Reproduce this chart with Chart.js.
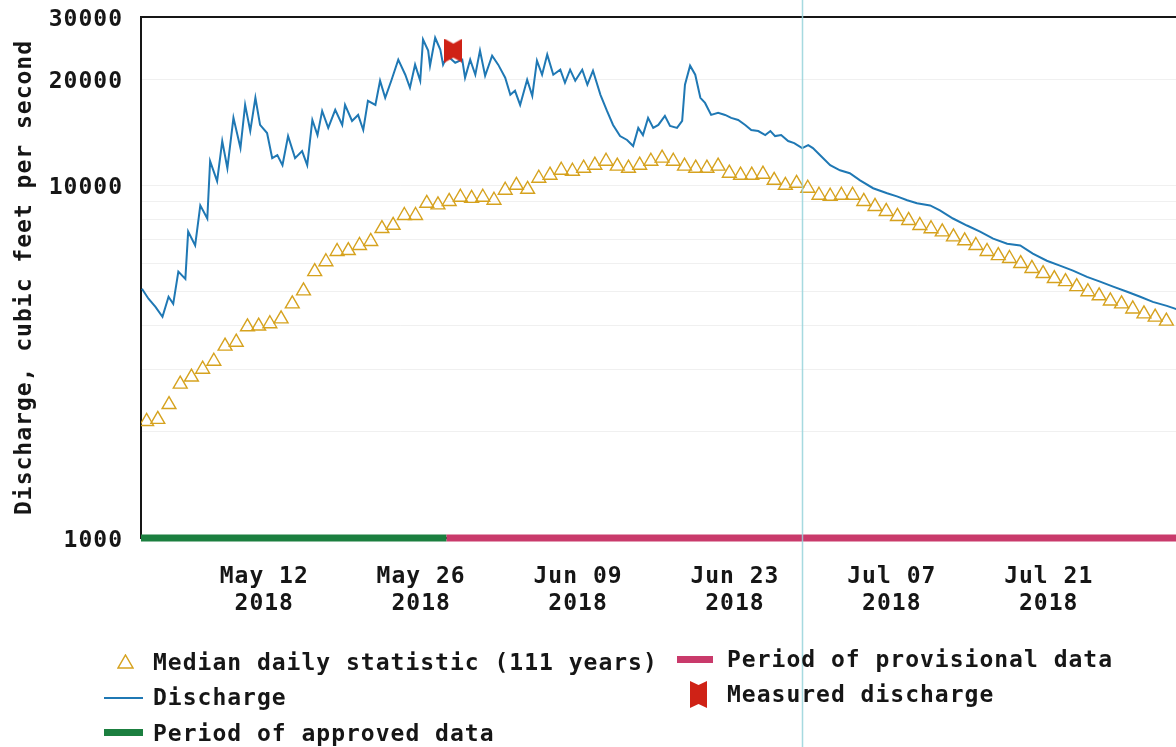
<!DOCTYPE html>
<html>
<head>
<meta charset="utf-8">
<script src="https://cdn.jsdelivr.net/npm/chart.js@4.4.1/dist/chart.umd.min.js"></script>
<style>
  html, body { margin: 0; padding: 0; background: #fff; overflow: hidden; }
  #wrap { position: relative; width: 1176px; height: 747px; }
  #chart { position: absolute; left: 0; top: 0; }
  .lg { position: absolute; font: bold 23px "DejaVu Sans Mono", monospace; letter-spacing: 1px;
        color: #161616; line-height: 26px; height: 26px; white-space: nowrap; }
  .sym { position: absolute; }
</style>
</head>
<body>
<div id="wrap">
  <canvas id="chart" width="1176" height="747"></canvas>

  <svg class="sym" style="left:117px;top:654px" width="17" height="15">
    <polygon points="8.5,1 16,14 1,14" fill="none" stroke="#d6a21e" stroke-width="1.5"/>
  </svg>
  <div class="lg" style="left:153px;top:649px">Median daily statistic (111 years)</div>

  <div class="sym" style="left:104px;top:697px;width:39px;height:2px;background:#1f78b4"></div>
  <div class="lg" style="left:153px;top:684px">Discharge</div>

  <div class="sym" style="left:104px;top:729px;width:39px;height:7px;background:#1b7f3f"></div>
  <div class="lg" style="left:153px;top:720px">Period of approved data</div>

  <div class="sym" style="left:677px;top:656px;width:36px;height:7px;background:#c93a6b"></div>
  <div class="lg" style="left:727px;top:646px">Period of provisional data</div>

  <svg class="sym" style="left:690px;top:681px" width="17" height="27">
    <polygon points="0,0 8.5,4 17,0 17,27 8.5,23 0,27" fill="#cf2216"/>
  </svg>
  <div class="lg" style="left:727px;top:681px">Measured discharge</div>
</div>

<script>
// median daily statistic, one value per day starting 2018-05-01
const medianStart = '2018-05-01';
const medianValues = [
  2140, 2170, 2390, 2730, 2860, 3010, 3170, 3500, 3590, 3970,
  3990, 4050, 4180, 4610, 5020, 5690, 6070, 6490, 6530, 6750,
  6930, 7540, 7700, 8210, 8210, 8890, 8800, 9000, 9250, 9180,
  9250, 9070, 9680, 10000, 9740, 10470, 10680, 11030, 10960, 11180,
  11400, 11700, 11330, 11180, 11400, 11700, 11940, 11700, 11330, 11180,
  11180, 11330, 10820, 10680, 10680, 10750, 10330, 10000, 10130, 9810,
  9370, 9310, 9370, 9370, 9000, 8710, 8430, 8160, 7950, 7690,
  7530, 7380, 7140, 6960, 6750, 6490, 6320, 6200, 6000, 5810,
  5620, 5440, 5330, 5160, 4990, 4860, 4700, 4610, 4460, 4320,
  4230, 4120
];

// discharge (cfs), daily highs and lows
const dischargeTimes = [
  '2018-05-01 02', '2018-05-01 16', '2018-05-02 07', '2018-05-02 22', '2018-05-03 11', '2018-05-03 21',
  '2018-05-04 08', '2018-05-04 23', '2018-05-05 05', '2018-05-05 20', '2018-05-06 07', '2018-05-06 22',
  '2018-05-07 04', '2018-05-07 19', '2018-05-08 06', '2018-05-08 17', '2018-05-09 06', '2018-05-09 21',
  '2018-05-10 07', '2018-05-10 18', '2018-05-11 05', '2018-05-11 15', '2018-05-12 06', '2018-05-12 17',
  '2018-05-13 04', '2018-05-13 15', '2018-05-14 03', '2018-05-14 18', '2018-05-15 09', '2018-05-15 20',
  '2018-05-16 07', '2018-05-16 18', '2018-05-17 04', '2018-05-17 17', '2018-05-18 08', '2018-05-18 23',
  '2018-05-19 05', '2018-05-19 20', '2018-05-20 09', '2018-05-20 20', '2018-05-21 06', '2018-05-21 22',
  '2018-05-22 08', '2018-05-22 19', '2018-05-23 08', '2018-05-23 23', '2018-05-24 14', '2018-05-25 00',
  '2018-05-25 11', '2018-05-25 22', '2018-05-26 04', '2018-05-26 15', '2018-05-26 19', '2018-05-27 06',
  '2018-05-27 17', '2018-05-27 23', '2018-05-28 08', '2018-05-29 01', '2018-05-29 16', '2018-05-29 22',
  '2018-05-30 09', '2018-05-30 20', '2018-05-31 06', '2018-05-31 17', '2018-06-01 08', '2018-06-01 21',
  '2018-06-02 12', '2018-06-02 23', '2018-06-03 09', '2018-06-03 20', '2018-06-04 11', '2018-06-04 22',
  '2018-06-05 08', '2018-06-05 19', '2018-06-06 06', '2018-06-06 19', '2018-06-07 10', '2018-06-07 20',
  '2018-06-08 07', '2018-06-08 18', '2018-06-09 09', '2018-06-09 20', '2018-06-10 08', '2018-06-11 00',
  '2018-06-11 14', '2018-06-12 03', '2018-06-12 18', '2018-06-13 09', '2018-06-13 22', '2018-06-14 09',
  '2018-06-14 19', '2018-06-15 06', '2018-06-15 17', '2018-06-16 04', '2018-06-16 18', '2018-06-17 05',
  '2018-06-17 20', '2018-06-18 07', '2018-06-18 13', '2018-06-19 00', '2018-06-19 11', '2018-06-19 22',
  '2018-06-20 08', '2018-06-20 21', '2018-06-21 12', '2018-06-22 03', '2018-06-22 16', '2018-06-23 07',
  '2018-06-23 22', '2018-06-24 11', '2018-06-25 02', '2018-06-25 17', '2018-06-26 04', '2018-06-26 14',
  '2018-06-27 03', '2018-06-27 18', '2018-06-28 07', '2018-06-29 00', '2018-06-29 13', '2018-06-29 23',
  '2018-06-30 14', '2018-07-01 12', '2018-07-02 09', '2018-07-03 06', '2018-07-04 04', '2018-07-05 08',
  '2018-07-06 14', '2018-07-07 11', '2018-07-08 09', '2018-07-09 06', '2018-07-10 10', '2018-07-11 07',
  '2018-07-12 11', '2018-07-13 17', '2018-07-14 21', '2018-07-16 01', '2018-07-17 07', '2018-07-18 11',
  '2018-07-19 14', '2018-07-20 20', '2018-07-22 00', '2018-07-23 04', '2018-07-24 10', '2018-07-25 14',
  '2018-07-26 18', '2018-07-28 00', '2018-07-29 04', '2018-07-30 07', '2018-07-31 13', '2018-08-01 13'
];
const dischargeValues = [
  5090, 4770, 4520, 4240, 4830, 4610,
  5690, 5430, 7390, 6750, 8770, 8050,
  11700, 10270, 13350, 11180, 15530, 12750,
  16900, 14250, 17700, 14830, 14070, 11940,
  12180, 11400, 13790, 11940, 12500, 11400,
  15320, 13880, 16250, 14540, 16360, 14830,
  16900, 15220, 15830, 14350, 17350, 16900,
  19790, 17700, 19790, 22710, 20580, 18900,
  21980, 19790, 25890, 24090, 21830, 26200,
  24250, 21980, 23310, 22260, 22710, 20180,
  22710, 20580, 24090, 20440, 23310, 21980,
  20180, 18050, 18530, 16900, 19910, 17930,
  22560, 20580, 23470, 20580, 21270, 19530,
  21270, 19790, 21270, 19280, 21130, 18050,
  16250, 14830, 13790, 13440, 12920, 14540,
  13880, 15530, 14540, 14830, 15730, 14730,
  14540, 15220, 19280, 21830, 20580, 17700,
  17120, 15830, 16040, 15830, 15530, 15320,
  14830, 14350, 14250, 13880, 14250, 13790,
  13880, 13350, 13170, 12750, 13000, 12750,
  12180, 11400, 11030, 10820, 10330, 9810,
  9490, 9300, 9070, 8890, 8770, 8490,
  8050, 7690, 7390, 7060, 6830, 6750,
  6400, 6110, 5920, 5730, 5500, 5330,
  5160, 4990, 4830, 4670, 4550, 4440
];

const measuredTimes = ['2018-05-28 21'];
const measuredValues = [24090];

const approvedPeriod = ['2018-05-01 00', '2018-05-28 06'];
const provisionalPeriod = ['2018-05-28 06', '2018-08-02 00'];

const xTickDates = ['2018-05-12', '2018-05-26', '2018-06-09', '2018-06-23', '2018-07-07', '2018-07-21'];
const xTickLabels = [['May 12', '2018'], ['May 26', '2018'], ['Jun 09', '2018'],
                     ['Jun 23', '2018'], ['Jul 07', '2018'], ['Jul 21', '2018']];
const yTickLabels = [1000, 10000, 20000, 30000];
const yGridValues = [1000, 2000, 3000, 4000, 5000, 6000, 7000, 8000, 9000, 10000, 20000, 30000];

const creaseDate = '2018-06-29 00';   // light vertical fold line across the photo

// days since 2018-05-01 00:00
function dayOf(s) {
  const [d, h] = s.split(' ');
  const [Y, M, D] = d.split('-').map(Number);
  return (Date.UTC(Y, M - 1, D) - Date.UTC(2018, 4, 1)) / 864e5 + (h ? Number(h) / 24 : 0);
}

function markerImage(w, h, notch) {
  const c = document.createElement('canvas');
  c.width = w; c.height = h;
  const g = c.getContext('2d');
  g.fillStyle = '#cf2216';
  g.beginPath();
  g.moveTo(0, 0); g.lineTo(w / 2, notch); g.lineTo(w, 0);
  g.lineTo(w, h); g.lineTo(w / 2, h - notch); g.lineTo(0, h);
  g.closePath();
  g.fill();
  return c;
}

const font = { family: '"DejaVu Sans Mono", monospace', size: 23, weight: 'bold', lineHeight: 1.17 };
const ink = '#161616';
const x0 = dayOf(medianStart);

const spacing = {
  id: 'spacing',
  beforeDraw(chart) { chart.ctx.letterSpacing = '1px'; }
};

const crease = {
  id: 'crease',
  afterDraw(chart) {
    const ctx = chart.ctx;
    const px = Math.round(chart.scales.x.getPixelForValue(dayOf(creaseDate))) + 0.5;
    ctx.save();
    ctx.strokeStyle = 'rgba(150, 212, 218, 0.85)';
    ctx.lineWidth = 1.5;
    ctx.beginPath();
    ctx.moveTo(px, 0);
    ctx.lineTo(px, chart.height);
    ctx.stroke();
    ctx.restore();
  }
};

new Chart(document.getElementById('chart').getContext('2d'), {
  type: 'line',
  data: {
    datasets: [
      {
        label: 'Measured discharge',
        data: measuredTimes.map((t, i) => ({ x: dayOf(t), y: measuredValues[i] })),
        showLine: false,
        pointStyle: markerImage(18, 24, 5),
        pointRadius: 10
      },
      {
        label: 'Discharge',
        data: dischargeTimes.map((t, i) => ({ x: dayOf(t), y: dischargeValues[i] })),
        borderColor: '#1f78b4',
        borderWidth: 2,
        pointRadius: 0,
        tension: 0
      },
      {
        label: 'Median daily statistic (111 years)',
        data: medianValues.map((v, i) => ({ x: x0 + i + 0.5, y: v })),
        showLine: false,
        pointStyle: 'triangle',
        pointRadius: 8,
        pointBorderWidth: 1.4,
        borderColor: '#d6a21e',
        backgroundColor: 'rgba(255, 255, 255, 0)'
      },
      {
        label: 'Period of approved data',
        data: approvedPeriod.map(t => ({ x: dayOf(t), y: 1000 })),
        borderColor: '#1b7f3f',
        borderWidth: 7,
        borderCapStyle: 'butt',
        pointRadius: 0,
        clip: false
      },
      {
        label: 'Period of provisional data',
        data: provisionalPeriod.map(t => ({ x: dayOf(t), y: 1000 })),
        borderColor: '#c93a6b',
        borderWidth: 7,
        borderCapStyle: 'butt',
        pointRadius: 0,
        clip: false
      }
    ]
  },
  options: {
    responsive: false,
    animation: false,
    devicePixelRatio: 1,
    layout: { autoPadding: false, padding: { top: 17, left: 0, right: 0, bottom: 0 } },
    plugins: {
      legend: { display: false },
      tooltip: { enabled: false }
    },
    scales: {
      x: {
        type: 'linear',
        min: 0,
        max: 92.36,
        afterBuildTicks: axis => { axis.ticks = xTickDates.map(d => ({ value: dayOf(d) })); },
        afterFit: axis => {
          axis.height = 747 - 538;
          axis.paddingLeft = 0;
          axis.paddingRight = 0;
        },
        grid: { display: false },
        border: { display: true, color: ink, width: 2 },
        ticks: {
          autoSkip: false,
          maxRotation: 0,
          padding: 18,
          font: font,
          color: ink,
          callback: (value, index) => xTickLabels[index]
        }
      },
      y: {
        type: 'logarithmic',
        min: 1000,
        max: 30000,
        afterBuildTicks: axis => { axis.ticks = yGridValues.map(v => ({ value: v })); },
        afterFit: axis => {
          axis.width = 141;
          axis.paddingTop = 0;
          axis.paddingBottom = 0;
        },
        grid: {
          drawTicks: false,
          color: c => (c.tick && c.tick.value === 30000) ? ink : 'rgba(0, 0, 0, 0.06)',
          lineWidth: c => (c.tick && c.tick.value === 30000) ? 2 : 1
        },
        border: { display: true, color: ink, width: 2 },
        ticks: {
          autoSkip: false,
          padding: 18,
          labelOffset: 3,
          font: font,
          color: ink,
          callback: v => yTickLabels.includes(v) ? String(v) : ''
        },
        title: {
          display: true,
          text: 'Discharge, cubic feet per second',
          font: font,
          color: ink,
          padding: { top: 12, bottom: 0 }
        }
      }
    }
  },
  plugins: [spacing, crease]
});
</script>
</body>
</html>
